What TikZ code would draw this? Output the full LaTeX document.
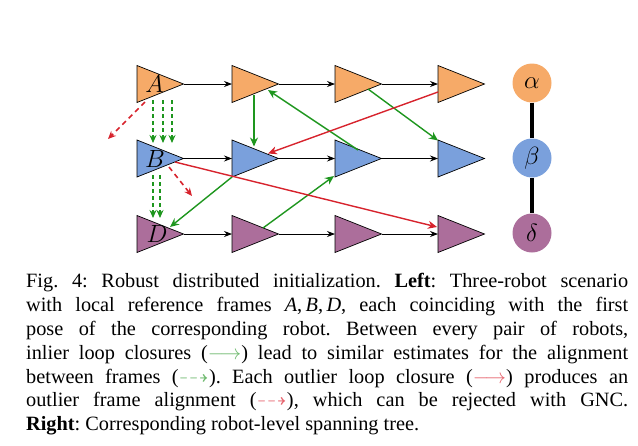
\documentclass[tikz,border=0pt]{standalone}
\usepackage{fontspec}
\setmainfont{Liberation Serif}
\usepackage{amssymb}
\usetikzlibrary{arrows.meta,calc}
\definecolor{orF}{RGB}{246,170,104}
\definecolor{blF}{RGB}{122,160,220}
\definecolor{puF}{RGB}{172,110,155}
\definecolor{grn}{RGB}{30,150,30}
\definecolor{rdd}{RGB}{215,35,45}
\definecolor{lgrn}{RGB}{110,185,110}
\definecolor{lrdd}{RGB}{230,100,110}
\frenchspacing
\begin{document}
\begin{tikzpicture}[x=1pt,y=-1pt,
  tri/.style={draw=black,line width=0.7pt},
  odo/.style={draw=black,line width=0.8pt,-{Stealth[length=8pt,width=6pt]}},
  inl/.style={draw=grn,line width=1.4pt,-{Stealth[length=9pt,width=8pt]}},
  outl/.style={draw=rdd,line width=1.4pt,-{Stealth[length=9pt,width=8pt]}},
  ginl/.style={draw=grn,line width=1.6pt,dash pattern=on 4pt off 3pt,-{Stealth[length=8pt,width=7pt]}},
  routl/.style={draw=rdd,line width=1.6pt,dash pattern=on 5pt off 4pt,-{Stealth[length=8pt,width=7pt]}},
  lab/.style={font=\fontsize{26}{26}\selectfont,inner sep=0pt},
  circ/.style={circle,minimum size=39pt,inner sep=0pt,font=\fontsize{24}{24}\selectfont},
  tree/.style={line width=4.5pt,draw=black}]
\useasboundingbox (0,0) rectangle (638,445);
\foreach \r/\y/\col in {a/84/orF, b/158.5/blF, d/234/puF}{
  \foreach \c/\x in {1/137,2/232,3/335,4/438}{
    \draw[tri,fill=\col] (\x,\y-18.5) -- (\x+46.5,\y) -- (\x,\y+18.5) -- cycle;
    \coordinate (\r\c) at (\x,\y);
    \coordinate (\r\c t) at (\x+46.5,\y);
  }
}
\node[lab] (la) at (154.5,84) {$A$};
\node[lab] (lb) at (155,158.5) {$B$};
\node[lab] (ld) at (157,234) {$D$};
% odometry
\foreach \r in {a,b,d}{
  \draw[odo] (\r1t) -- (\r2);
  \draw[odo] (\r2t) -- (\r3);
  \draw[odo] (\r3t) -- (\r4);
}
% inlier loop closures
\draw[inl] ($(a2)+(22,11)$) -- ($(b2)+(22,-12)$);
\draw[inl] ($(b3)+(23,-8.5)$) -- ($(a2)+(36,6)$);
\draw[inl] ($(a3)+(33,5)$) -- ($(b4)+(0,-18)$);
\draw[inl] ($(b2)+(0,18.5)$) -- ($(d1)+(33,-7)$);
\draw[inl] ($(d2)+(31,-6)$) -- ($(b3)+(-1,17.5)$);
% outlier loop closures
\draw[outl] ($(a4)+(0,8)$) -- ($(b2)+(36,-5)$);
\draw[outl] ($(b1)+(38,3.5)$) -- ($(d4)+(-1,-7)$);
% frame alignments
\foreach \dx in {16,26,35}{
  \draw[ginl] ($(a1)+(\dx,16)$) -- ($(b1)+(\dx,-15.5)$);
}
\foreach \dx in {16,23}{
  \draw[ginl] ($(b1)+(\dx,16.5)$) -- ($(d1)+(\dx,-16)$);
}
\coordinate (ra) at (108,139);
\coordinate (rb) at (192,196);
\draw[routl] ($(a1)+(8,18)$) -- (ra);
\draw[routl] ($(b1)+(32,8.5)$) -- (rb);
% spanning tree
\node[circ,fill=orF] (al) at (532,83) {$\alpha$};
\node[circ,fill=blF] (be) at (532,158) {$\beta$};
\node[circ,fill=puF] (de) at (532,233) {$\delta$};
\draw[tree] (al.south) -- (be.north);
\draw[tree] (be.south) -- (de.north);
% caption
\node[anchor=north west,inner sep=0pt,text width=602pt,align=justify,
      font=\fontsize{20.3}{23.9}\selectfont] (cap) at (26,273) {%
Fig. 4: Robust distributed initialization. \textbf{Left}: Three-robot scenario\linebreak
with local reference frames \textit{A},\,\textit{B},\,\textit{D}, each coinciding with the first\linebreak
pose of the corresponding robot. Between every pair of robots,\linebreak
inlier loop closures (\textcolor{lgrn}{$\longrightarrow$}) lead to similar estimates for the alignment\linebreak
between frames (\textcolor{lgrn}{$\dashrightarrow$}). Each outlier loop closure (\textcolor{lrdd}{$\longrightarrow$}) produces an\linebreak
outlier frame alignment (\textcolor{lrdd}{$\dashrightarrow$}), which can be rejected with GNC.\linebreak
\textbf{Right}: Corresponding robot-level spanning tree.};
\end{tikzpicture}
\end{document}
